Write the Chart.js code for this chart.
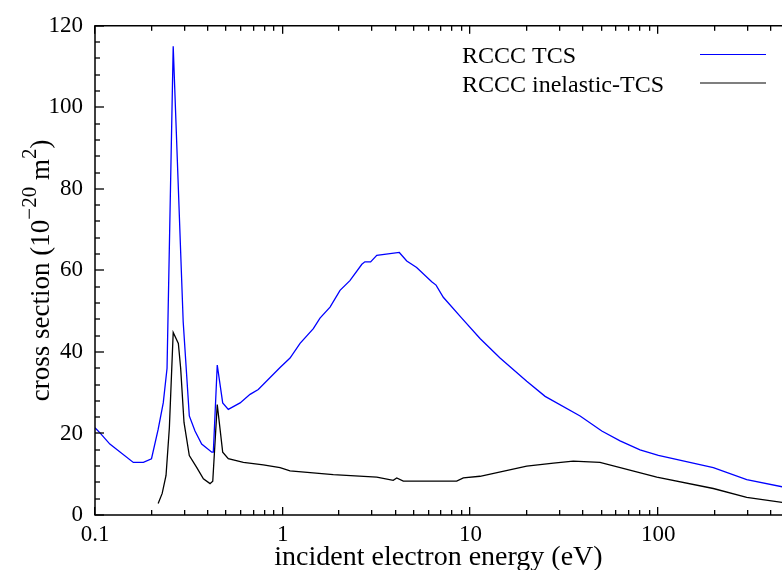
<!DOCTYPE html>
<html>
<head>
<meta charset="utf-8">
<script src="https://cdn.jsdelivr.net/npm/chart.js@4/dist/chart.umd.min.js"></script>
<style>
  html, body { margin: 0; padding: 0; background: #fff; overflow: hidden; }
  canvas { display: block; }
</style>
</head>
<body>
<canvas id="chart" width="782" height="570"></canvas>
<script>
// RCCC total cross section (blue)
const tcsEnergy = [0.1, 0.106, 0.12, 0.16, 0.181, 0.2, 0.217, 0.231, 0.242, 0.261, 0.295, 0.318, 0.341, 0.37, 0.419, 0.427,
  0.448, 0.479, 0.513, 0.593, 0.67, 0.741, 0.968, 1.094, 1.237, 1.456, 1.58, 1.787, 2.02, 2.28, 2.64, 2.74, 2.94, 3.17,
  4.18, 4.58, 5.17, 6.22, 6.56, 7.17, 8.99, 11.25, 14.38, 19.95, 25.0, 38.4, 50.1, 62.7, 80.1, 100.3, 196.8, 296.5, 460];
const tcsValues = [21.4, 20.2, 17.4, 12.9, 12.9, 13.8, 21.0, 27.5, 36.0, 115.0, 47.4, 24.3, 20.6, 17.4, 15.4, 15.4,
  36.8, 27.5, 25.9, 27.5, 29.6, 30.8, 36.2, 38.5, 42.1, 45.7, 48.3, 51.0, 55.1, 57.5, 61.5, 62.1, 62.1, 63.7,
  64.4, 62.3, 60.7, 57.2, 56.4, 53.4, 48.3, 43.3, 38.5, 32.8, 29.1, 24.3, 20.6, 18.2, 16.0, 14.6, 11.6, 8.7, 6.9];

// RCCC inelastic total cross section (black)
const inelEnergy = [0.217, 0.228, 0.239, 0.249, 0.261, 0.278, 0.286, 0.298, 0.318, 0.348, 0.378, 0.41, 0.424, 0.448,
  0.479, 0.513, 0.617, 0.788, 0.968, 1.094, 1.86, 3.17, 3.88, 4.05, 4.39, 8.45, 9.17, 11.25, 19.95, 27.7, 35.3, 49.0,
  98.4, 196.8, 296.5, 460];
const inelValues = [2.8, 5.3, 9.7, 21.4, 44.8, 42.1, 36.0, 22.7, 14.6, 11.7, 8.9, 7.7, 8.3, 27.1,
  15.4, 13.8, 12.9, 12.3, 11.6, 10.8, 9.9, 9.3, 8.5, 9.1, 8.3, 8.3, 9.1, 9.5, 12.0, 12.7, 13.2, 12.9,
  9.3, 6.5, 4.3, 3.1];

const xLabelTicks = [0.1, 1, 10, 100];
const xMinorSteps = [1, 2, 3, 4, 5, 6, 7, 8, 9];
const yTicks = [0, 20, 40, 60, 80, 100, 120];

const serif = '"Liberation Serif", "DejaVu Serif", serif';

function toPoints(xs, ys) {
  return xs.map((x, i) => ({ x: x, y: ys[i] }));
}

// frame, inward ticks, y title and legend drawn the gnuplot way
const framePlugin = {
  id: 'frame',
  afterDraw(chart) {
    const ctx = chart.ctx;
    const area = chart.chartArea;
    const xs = chart.scales.x;
    const ys = chart.scales.y;
    ctx.save();
    ctx.strokeStyle = '#000';
    ctx.lineWidth = 1.5;
    ctx.beginPath();
    ctx.moveTo(area.right + 2, area.top);
    ctx.lineTo(area.left, area.top);
    ctx.lineTo(area.left, area.bottom);
    ctx.lineTo(area.right + 2, area.bottom);
    ctx.stroke();

    ctx.fillStyle = '#000';
    // x ticks (log decades and minors), bottom and top
    xLabelTicks.forEach(d => {
      xMinorSteps.forEach(m => {
        const v = d * m;
        if (v > xs.max) return;
        const px = Math.round(xs.getPixelForValue(v));
        const len = m === 1 ? 8 : 5;
        ctx.fillRect(px - 1, area.bottom - len, 1.3, len);
        ctx.fillRect(px - 1, area.top, 1.3, len);
      });
    });
    // y ticks
    for (let v = 0; v <= 120; v += 4) {
      const py = Math.round(ys.getPixelForValue(v));
      const len = v % 20 === 0 ? 9 : 5;
      ctx.fillRect(area.left, py - 0.65, len, 1.3);
    }

    // y axis title with superscripts
    const parts = [
      ['cross section (10', 27, 0],
      ['\u221220', 21, 13],
      [' m', 27, 0],
      ['2', 21, 13],
      [')', 27, 0]
    ];
    let total = 0;
    parts.forEach(p => { ctx.font = p[1] + 'px ' + serif; total += ctx.measureText(p[0]).width; });
    ctx.translate(49, (area.top + area.bottom) / 2);
    ctx.rotate(-Math.PI / 2);
    ctx.fillStyle = '#000';
    ctx.textBaseline = 'alphabetic';
    let cx = -total / 2;
    parts.forEach(p => {
      ctx.font = p[1] + 'px ' + serif;
      ctx.fillText(p[0], cx, -p[2]);
      cx += ctx.measureText(p[0]).width;
    });
    ctx.setTransform(1, 0, 0, 1, 0, 0);

    // legend: text on the left, line sample on the right
    ctx.font = '24px ' + serif;
    ctx.textBaseline = 'alphabetic';
    chart.data.datasets.forEach((ds, i) => {
      const base = 63 + i * 28.5;
      ctx.fillStyle = '#000';
      ctx.fillText(ds.label, 462, base);
      ctx.strokeStyle = ds.borderColor;
      ctx.lineWidth = 1.2;
      ctx.beginPath();
      ctx.moveTo(700, base - 8.5);
      ctx.lineTo(766, base - 8.5);
      ctx.stroke();
    });
    ctx.restore();
  }
};

new Chart(document.getElementById('chart'), {
  type: 'line',
  data: {
    datasets: [
      {
        label: 'RCCC TCS',
        data: toPoints(tcsEnergy, tcsValues),
        borderColor: '#0000ff',
        borderWidth: 1.3,
        pointRadius: 0,
        tension: 0,
        fill: false,
      },
      {
        label: 'RCCC inelastic-TCS',
        data: toPoints(inelEnergy, inelValues),
        borderColor: '#000000',
        borderWidth: 1.3,
        pointRadius: 0,
        tension: 0,
        fill: false,
      },
    ],
  },
  options: {
    responsive: false,
    animation: false,
    layout: { padding: { top: 16, right: 0, left: 0, bottom: 0 } },
    plugins: {
      legend: { display: false },
      tooltip: { enabled: false },
    },
    scales: {
      x: {
        type: 'logarithmic',
        min: 0.1,
        max: 457,
        grid: { display: false, drawTicks: false },
        border: { display: false },
        afterBuildTicks: scale => { scale.ticks = xLabelTicks.map(v => ({ value: v })); },
        afterFit: scale => { scale.height = 55; },
        ticks: {
          autoSkip: false,
          maxRotation: 0,
          padding: 6,
          color: '#000',
          font: { family: serif, size: 23 },
          callback: v => String(v),
        },
        title: {
          display: true,
          text: 'incident electron energy (eV)',
          color: '#000',
          font: { family: serif, size: 28, lineHeight: 1 },
          padding: { top: 0, bottom: -2 },
        },
      },
      y: {
        min: 0,
        max: 120,
        grid: { display: false, drawTicks: false },
        border: { display: false },
        afterBuildTicks: scale => { scale.ticks = yTicks.map(v => ({ value: v })); },
        afterFit: scale => { scale.width = 95; },
        ticks: {
          padding: 12,
          color: '#000',
          font: { family: serif, size: 23 },
        },
      },
    },
  },
  plugins: [framePlugin],
});
</script>
</body>
</html>
